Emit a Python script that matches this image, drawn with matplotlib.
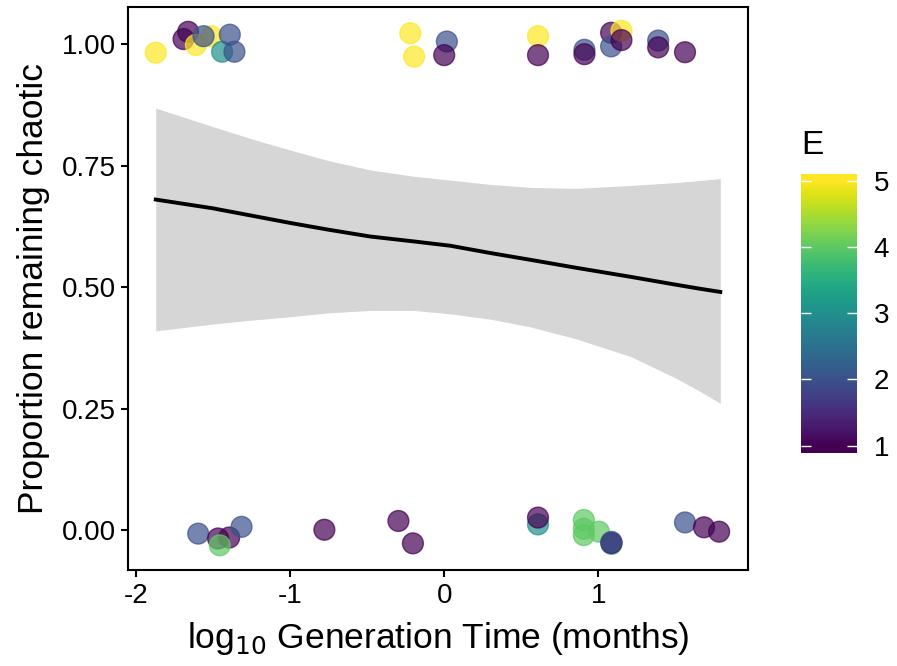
import numpy as np
import matplotlib
matplotlib.use("Agg")
import matplotlib.pyplot as plt
from matplotlib.colors import Normalize

plt.rcParams['font.family'] = ['Liberation Sans', 'DejaVu Sans']

# jittered observations: log10 generation time, outcome (0/1 plus jitter), embedding dimension E
gen_time = [-1.87, -1.69, -1.66, -1.61, -1.51, -1.56, -1.44, -1.39, -1.36,
            -0.22, -0.195, 0.017, 0.0, 0.608, 0.608, 0.909, 0.909, 1.082,
            1.082, 1.149, 1.149, 1.387, 1.387, 1.561,
            -1.595, -1.466, -1.394, -1.455, -1.314, -0.777, -0.297, -0.203,
            0.608, 0.608, 0.905, 0.905, 0.905, 1.003, 1.084, 1.084, 1.084,
            1.561, 1.684, 1.782]
chaotic = [0.982, 1.010, 1.025, 0.998, 1.016, 1.016, 0.984, 1.019, 0.984,
           1.022, 0.974, 1.005, 0.977, 1.016, 0.977, 0.988, 0.979, 1.023,
           0.995, 1.027, 1.008, 1.007, 0.993, 0.983,
           -0.007, -0.017, -0.015, -0.031, 0.007, 0.001, 0.019, -0.027,
           0.012, 0.026, 0.021, 0.003, -0.010, -0.003, -0.028, -0.026, -0.024,
           0.016, 0.006, -0.003]
E_vals = [5, 1, 1, 5, 5, 2, 3, 2, 2,
          5, 5, 2, 1, 5, 1, 2, 1, 1,
          2, 5, 1, 2, 1, 1,
          2, 1, 1, 4, 2, 1, 1, 1,
          3, 1, 4, 4, 4, 4, 3, 1, 2,
          2, 1, 1]

# fitted curve and confidence band
fit_x = [-1.87, -1.5, -1.25, -1.0, -0.75, -0.48, -0.2, 0.04, 0.3, 0.56,
         0.85, 1.21, 1.5, 1.65, 1.79]
fit_y = [0.680, 0.662, 0.647, 0.632, 0.618, 0.604, 0.594, 0.585, 0.570, 0.556,
         0.540, 0.521, 0.505, 0.497, 0.490]
fit_hi = [0.868, 0.830, 0.805, 0.782, 0.760, 0.741, 0.728, 0.720, 0.711, 0.705,
          0.703, 0.709, 0.715, 0.719, 0.723]
fit_lo = [0.410, 0.424, 0.432, 0.439, 0.447, 0.452, 0.452, 0.445, 0.434, 0.418,
          0.394, 0.357, 0.313, 0.287, 0.261]

e_ticks = [1, 2, 3, 4, 5]

fig = plt.figure(figsize=(8.97, 6.66), dpi=100)
ax = fig.add_axes([0.1427, 0.144, 0.6913, 0.8455])

ax.fill_between(fit_x, fit_lo, fit_hi, color='#d6d6d6', lw=0, zorder=1)
ax.plot(fit_x, fit_y, color='black', lw=2.8, zorder=2)

norm = Normalize(vmin=min(e_ticks), vmax=max(e_ticks))
sc = ax.scatter(gen_time, chaotic, c=E_vals, cmap='viridis', norm=norm,
                s=225, alpha=0.7, edgecolors='face', linewidths=1, zorder=3)

ax.set_xlim(-2.05, 1.97)
ax.set_ylim(-0.082, 1.076)
ax.set_xticks([-2, -1, 0, 1])
ax.set_xticklabels(['-2', '-1', '0', '1'])
ax.set_yticks([0, 0.25, 0.5, 0.75, 1.0])
ax.set_yticklabels(['0.00', '0.25', '0.50', '0.75', '1.00'])
ax.tick_params(labelsize=20, width=1.5, length=5, color='black', labelcolor='black', pad=4)
for sp in ax.spines.values():
    sp.set_linewidth(1.5)

ax.set_xlabel(r'log$_{10}$ Generation Time (months)', fontsize=25.5, labelpad=8)
ax.set_ylabel('Proportion remaining chaotic', fontsize=25.5, labelpad=8)

# colour bar (gradient runs slightly past the 1..5 breaks)
cax = fig.add_axes([801 / 897, (666 - 453) / 666, 56 / 897, 279 / 666])
lo, hi = 0.89, 5.1
grad = np.linspace(lo, hi, 300).reshape(-1, 1)
cax.imshow(grad, cmap='viridis', norm=norm, aspect='auto', origin='lower',
           extent=[0, 1, lo, hi])
cax.set_xlim(0, 1)
cax.set_ylim(lo, hi)
cax.set_xticks([])
cax.yaxis.tick_right()
cax.set_yticks(e_ticks)
cax.set_yticklabels([str(t) for t in e_ticks])
cax.tick_params(axis='y', direction='in', length=7, width=1, color='white',
                left=True, right=True, labelsize=20, pad=12)
for sp in cax.spines.values():
    sp.set_visible(False)
fig.text(801 / 897, 1 - 145 / 666, 'E', fontsize=24, va='center', ha='left')

fig.savefig('out.png', dpi=100)
